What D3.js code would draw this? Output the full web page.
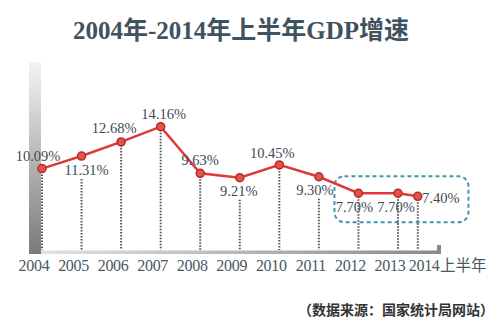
<!DOCTYPE html>
<html>
<head>
<meta charset="utf-8">
<script src="https://cdn.jsdelivr.net/npm/d3@7"></script>
<style>
  body { margin: 0; background: #fff; }
  svg { display: block; }
</style>
</head>
<body>
<div id="chart"></div>
<script>
// 2014 only has first-half data, so it sits halfway past 2013
const years = [2004, 2005, 2006, 2007, 2008, 2009, 2010, 2011, 2012, 2013, 2013.5];
const yearLabels = ['2004', '2005', '2006', '2007', '2008', '2009', '2010', '2011', '2012', '2013', '2014'];
const growth = [10.09, 11.31, 12.68, 14.16, 9.63, 9.21, 10.45, 9.30, 7.70, 7.70, 7.40];
// label placement around each point: [dx, dy]
const labelPos = [[-4, -8], [5, 19], [-7, -9], [3, -8], [0, -8], [-1, 18], [-7, -7], [-4, 18], [-4, 19], [-2, 19], [23, 7]];
// the last three sit inside the dashed box, where the drop lines run through the labels
const boxed = [false, false, false, false, false, false, false, false, true, true, true];

const width = 500, height = 322;

const svg = d3.select('#chart').append('svg')
    .attr('width', width)
    .attr('height', height);

const defs = svg.append('defs');

const vGrad = defs.append('linearGradient')
    .attr('id', 'vbar').attr('x1', 0).attr('y1', 0).attr('x2', 0).attr('y2', 1);
vGrad.append('stop').attr('offset', '0%').attr('stop-color', '#f4f4f4');
vGrad.append('stop').attr('offset', '100%').attr('stop-color', '#7a7a7a');

const hGrad = defs.append('linearGradient')
    .attr('id', 'hbar').attr('x1', 0).attr('y1', 0).attr('x2', 1).attr('y2', 0);
hGrad.append('stop').attr('offset', '0%').attr('stop-color', '#e2e2e2');
hGrad.append('stop').attr('offset', '100%').attr('stop-color', '#8a8a8a');

const x = d3.scaleLinear().domain([2004, 2013]).range([42, 398]);
const y = d3.scaleLinear().domain([2, 15]).range([252, 118]);

// title
svg.append('text')
    .attr('x', 241)
    .attr('y', 39)
    .attr('text-anchor', 'middle')
    .attr('font-family', '"Liberation Serif", "Noto Sans CJK SC", serif')
    .attr('font-weight', 'bold')
    .attr('font-size', 25)
    .attr('fill', '#3f5260')
    .text('2004年-2014年上半年GDP增速');

// axis bars
svg.append('rect')
    .attr('x', 29).attr('y', 62)
    .attr('width', 12).attr('height', 192)
    .attr('fill', 'url(#vbar)');

svg.append('rect')
    .attr('x', 41).attr('y', 250.5)
    .attr('width', 400).attr('height', 3.5)
    .attr('fill', 'url(#hbar)');

svg.append('rect')
    .attr('x', 437).attr('y', 245)
    .attr('width', 4).attr('height', 9)
    .attr('fill', '#8a8a8a');

// highlight box around the recent years
svg.append('rect')
    .attr('x', x(2012) - 24).attr('y', y(7.7) - 17)
    .attr('width', 134).attr('height', 46)
    .attr('rx', 10).attr('ry', 10)
    .attr('fill', 'none')
    .attr('stroke', '#3d9aa6')
    .attr('stroke-width', 2)
    .attr('stroke-dasharray', '4,3');

// drop lines: start under a label that sits below the point
const dropTop = (d, i) => (labelPos[i][1] > 0 && !boxed[i]) ? y(d) + labelPos[i][1] + 4 : y(d);

svg.append('g').selectAll('line')
    .data(growth)
    .join('line')
    .attr('x1', (d, i) => x(years[i]))
    .attr('x2', (d, i) => x(years[i]))
    .attr('y1', dropTop)
    .attr('y2', 250)
    .attr('stroke', '#555')
    .attr('stroke-width', 2)
    .attr('stroke-dasharray', '1.5,1.5');

// growth line
const line = d3.line()
    .x((d, i) => x(years[i]))
    .y(d => y(d));

svg.append('path')
    .datum(growth)
    .attr('d', line)
    .attr('fill', 'none')
    .attr('stroke', '#e0393b')
    .attr('stroke-width', 2.5);

svg.append('g').selectAll('circle')
    .data(growth)
    .join('circle')
    .attr('cx', (d, i) => x(years[i]))
    .attr('cy', d => y(d))
    .attr('r', 4)
    .attr('fill', '#e2544a')
    .attr('stroke', '#b52a26')
    .attr('stroke-width', 1.5);

// value labels
svg.append('g').selectAll('text')
    .data(growth)
    .join('text')
    .attr('x', (d, i) => x(years[i]) + labelPos[i][0])
    .attr('y', (d, i) => y(d) + labelPos[i][1])
    .attr('text-anchor', 'middle')
    .attr('font-family', '"Liberation Serif", serif')
    .attr('font-size', 14.5)
    .attr('fill', '#3d4b55')
    .text(d => d.toFixed(2) + '%');

// year labels
svg.append('g').selectAll('text')
    .data(yearLabels)
    .join('text')
    .attr('x', (d, i) => i < 10 ? x(years[i]) - 8 : x(years[i]) - 9)
    .attr('y', 271)
    .attr('text-anchor', (d, i) => i < 10 ? 'middle' : 'start')
    .attr('font-family', '"Liberation Serif", serif')
    .attr('font-size', 16)
    .attr('letter-spacing', -0.3)
    .attr('fill', '#4a5862')
    .text(d => d);

svg.append('text')
    .attr('x', 440)
    .attr('y', 271)
    .attr('font-family', '"Noto Sans CJK SC", sans-serif')
    .attr('font-size', 15.5)
    .attr('fill', '#4a5862')
    .text('上半年');

// source note
svg.append('text')
    .attr('x', 494)
    .attr('y', 315)
    .attr('text-anchor', 'end')
    .attr('font-family', '"Noto Sans CJK SC", sans-serif')
    .attr('font-weight', 'bold')
    .attr('font-size', 14)
    .attr('fill', '#333')
    .text('（数据来源：国家统计局网站）');
</script>
</body>
</html>
